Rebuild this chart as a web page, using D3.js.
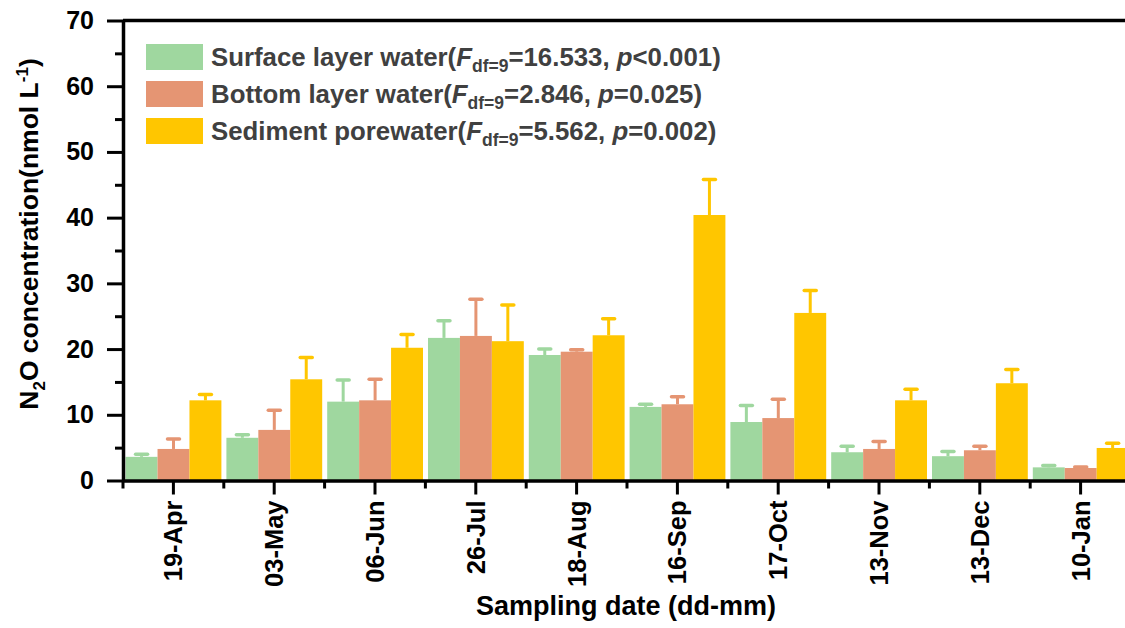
<!DOCTYPE html>
<html>
<head>
<meta charset="utf-8">
<script src="https://cdn.jsdelivr.net/npm/d3@7"></script>
<style>
  html, body { margin: 0; padding: 0; background: #fff; }
  svg { display: block; }
  text { font-family: "Liberation Sans", Arial, sans-serif; font-weight: bold; }
</style>
</head>
<body>
<svg id="chart" width="1125" height="628"></svg>
<script>
// ---- data ----
const categories = ["19-Apr","03-May","06-Jun","26-Jul","18-Aug","16-Sep","17-Oct","13-Nov","13-Dec","10-Jan"];
const seriesNames = ["Surface layer water", "Bottom layer water", "Sediment porewater"];
const surface     = [3.6, 6.5, 12.0, 21.7, 19.1, 11.2, 8.9, 4.3, 3.7, 2.0];
const surfaceErr  = [0.4, 0.45, 3.3, 2.6, 0.9, 0.4, 2.5, 0.9, 0.7, 0.3];
const bottom      = [4.8, 7.7, 12.2, 22.0, 19.6, 11.6, 9.5, 4.8, 4.6, 1.9];
const bottomErr   = [1.5, 3.0, 3.2, 5.6, 0.3, 1.15, 2.85, 1.15, 0.6, 0.15];
const sediment    = [12.2, 15.4, 20.2, 21.2, 22.1, 40.4, 25.5, 12.2, 14.8, 4.95];
const sedimentErr = [0.9, 3.3, 2.0, 5.5, 2.5, 5.4, 3.4, 1.7, 2.1, 0.7];
const legendStats = [["16.533", "<0.001"], ["2.846", "=0.025"], ["5.562", "=0.002"]];
const yMajorTicks = [0, 10, 20, 30, 40, 50, 60, 70];
const yMinorTicks = [5, 15, 25, 35, 45, 55, 65];
const colors = ["#9fd79f", "#e59573", "#ffc600"];

const values = [surface, bottom, sediment];
const errors = [surfaceErr, bottomErr, sedimentErr];

// ---- layout ----
const svg = d3.select("#chart");
const x0 = 123, groupW = 100.8;
const yTop = 20.5, yBot = 480.5;
const x = d3.scaleBand().domain(categories).range([x0, x0 + groupW * categories.length]).padding(0);
const xs = d3.scaleBand().domain(d3.range(3)).range([2.6, groupW - 2.4]).padding(0);
const y = d3.scaleLinear().domain([0, 70]).range([yBot, yTop]);

// ---- bars ----
const rows = [];
categories.forEach((c, i) => {
  for (let s = 0; s < 3; s++) rows.push({c, s, v: values[s][i], e: errors[s][i]});
});

const g = svg.append("g");
g.selectAll("rect.bar").data(rows).join("rect")
  .attr("class", "bar")
  .attr("x", d => x(d.c) + xs(d.s))
  .attr("width", xs.bandwidth())
  .attr("y", d => y(d.v))
  .attr("height", d => y(0) - y(d.v))
  .attr("fill", d => colors[d.s]);

// error bars (upper only)
g.selectAll("line.stem").data(rows).join("line")
  .attr("x1", d => x(d.c) + xs(d.s) + xs.bandwidth() / 2)
  .attr("x2", d => x(d.c) + xs(d.s) + xs.bandwidth() / 2)
  .attr("y1", d => y(d.v))
  .attr("y2", d => y(d.v + d.e))
  .attr("stroke", d => colors[d.s])
  .attr("stroke-width", 3);
g.selectAll("line.cap").data(rows).join("line")
  .attr("x1", d => x(d.c) + xs(d.s) + xs.bandwidth() / 2 - 6)
  .attr("x2", d => x(d.c) + xs(d.s) + xs.bandwidth() / 2 + 6)
  .attr("y1", d => y(d.v + d.e))
  .attr("y2", d => y(d.v + d.e))
  .attr("stroke", d => colors[d.s])
  .attr("stroke-width", 3.5)
  .attr("stroke-linecap", "round");

// ---- axes ----
const axisStroke = 3.5;
// y axis major
const yAxis = svg.append("g").attr("transform", `translate(${x0},0)`)
  .call(d3.axisLeft(y).tickValues(yMajorTicks).tickSize(16).tickSizeOuter(0).tickPadding(13));
yAxis.select(".domain").attr("stroke", "#000").attr("stroke-width", axisStroke);
yAxis.selectAll(".tick line").attr("stroke", "#000").attr("stroke-width", 3);
yAxis.selectAll(".tick text").attr("font-size", 25).attr("fill", "#000")
  .attr("font-family", "Liberation Sans, Arial, sans-serif").attr("font-weight", "bold");
// y axis minor
const yMinor = svg.append("g").attr("transform", `translate(${x0},0)`)
  .call(d3.axisLeft(y).tickValues(yMinorTicks).tickSize(8).tickFormat(""));
yMinor.select(".domain").remove();
yMinor.selectAll(".tick line").attr("stroke", "#000").attr("stroke-width", 3);

// x axis
const xAxis = svg.append("g").attr("transform", `translate(0,${yBot})`)
  .call(d3.axisBottom(x).tickSize(14).tickSizeOuter(0).tickPadding(6));
xAxis.select(".domain").attr("stroke", "#000").attr("stroke-width", axisStroke);
xAxis.selectAll(".tick line").attr("stroke", "#000").attr("stroke-width", 3);
xAxis.selectAll(".tick text")
  .attr("font-size", 25.5).attr("fill", "#000")
  .attr("font-family", "Liberation Sans, Arial, sans-serif").attr("font-weight", "bold")
  .attr("text-anchor", "end")
  .attr("transform", "rotate(-90)")
  .attr("x", -20).attr("y", 0).attr("dy", "0.35em");
// x minor ticks at group boundaries
const bounds = categories.map(c => x(c)).concat([x0 + groupW * categories.length]);
svg.append("g").selectAll("line").data(bounds).join("line")
  .attr("x1", d => d).attr("x2", d => d)
  .attr("y1", yBot).attr("y2", yBot + 8)
  .attr("stroke", "#000").attr("stroke-width", 3);

// top frame
svg.append("line")
  .attr("x1", x0).attr("x2", x0 + groupW * categories.length)
  .attr("y1", yTop).attr("y2", yTop)
  .attr("stroke", "#000").attr("stroke-width", axisStroke);

// ---- axis titles ----
const yt = svg.append("text")
  .attr("transform", "translate(38,234) rotate(-90)")
  .attr("text-anchor", "middle")
  .attr("font-size", 26.5).attr("fill", "#000");
yt.append("tspan").text("N");
yt.append("tspan").attr("font-size", 17).attr("dy", 7).text("2");
yt.append("tspan").attr("dy", -7).text("O concentration(nmol L");
yt.append("tspan").attr("font-size", 17).attr("dy", -10).text("-1");
yt.append("tspan").attr("dy", 10).text(")");

svg.append("text")
  .attr("x", 626).attr("y", 615)
  .attr("text-anchor", "middle")
  .attr("font-size", 27).attr("fill", "#000")
  .text("Sampling date (dd-mm)");

// ---- legend ----
const lg = svg.append("g");
seriesNames.forEach((name, i) => {
  const yy = 44 + i * 37;
  lg.append("rect").attr("x", 146).attr("y", yy).attr("width", 57).attr("height", 26).attr("fill", colors[i]);
  const t = lg.append("text").attr("x", 211).attr("y", yy + 22)
    .attr("font-size", 25.8).attr("fill", "#404040");
  t.append("tspan").text(name + "(");
  t.append("tspan").attr("font-style", "italic").text("F");
  t.append("tspan").attr("font-size", 17.5).attr("dy", 6).text("df=9");
  t.append("tspan").attr("dy", -6).text("=" + legendStats[i][0] + ", ");
  t.append("tspan").attr("font-style", "italic").text("p");
  t.append("tspan").text(legendStats[i][1] + ")");
});
</script>
</body>
</html>
